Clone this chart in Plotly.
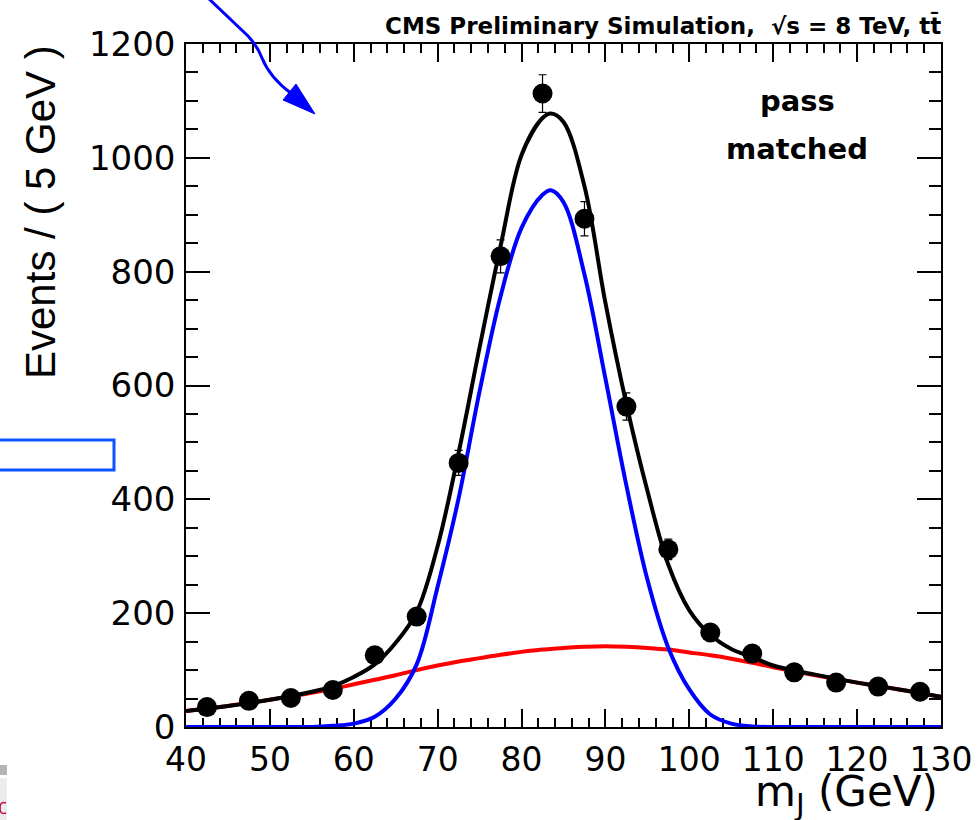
import plotly.graph_objects as go

# ---------------- data ----------------
bin_centers = [42.5, 47.5, 52.5, 57.5, 62.5, 67.5, 72.5, 77.5, 82.5, 87.5,
               92.5, 97.5, 102.5, 107.5, 112.5, 117.5, 122.5, 127.5]
events = [35, 46, 51, 65, 126, 194, 464, 827, 1113, 893,
          563, 312, 166, 129, 96, 78, 71, 62]
events_err = [6, 7, 7, 8, 11, 14, 22, 29, 33, 30, 24, 18, 13, 11, 10, 9, 8, 8]

curve_x = [40, 45, 50, 55, 57.5, 60, 62.5, 65, 67.5, 70, 72.5, 75, 77.5, 80,
           82.5, 83.5, 85, 87.5, 90, 92.5, 95, 97.5, 100, 102.5, 105, 107.5,
           110, 115, 120, 125, 130]
signal_curve = [0, 0, 0, 0, 2, 6, 18, 50, 110, 247, 402, 590, 757, 877,
                935, 943, 922, 795, 612, 424, 259, 139, 66, 22, 6, 1,
                0, 0, 0, 0, 0]
background_curve = [28, 37, 48, 60, 67, 75, 83, 91, 100, 108, 115, 121, 127, 132,
                    136, 137, 139, 141, 142, 141, 139, 136, 131, 126, 120, 113,
                    105, 91, 78, 66, 53]
total_curve = [28, 37, 48, 62, 72, 88, 110, 148, 202, 318, 482, 667, 845, 1005,
               1070, 1078, 1063, 950, 745, 567, 415, 285, 205, 162, 137, 123,
               108, 92, 78, 66, 53]

x_ticks = [40, 50, 60, 70, 80, 90, 100, 110, 120, 130]
y_ticks = [0, 200, 400, 600, 800, 1000, 1200]

# ---------------- figure ----------------
W, H = 980, 820
L, R, T, B = 186, 39, 44, 93
PW, PH = W - L - R, H - T - B
WIDE = "DejaVu Sans, Liberation Sans, Arial, sans-serif"
HELV = "Liberation Sans, Arial, sans-serif"


def px(x, y):
    """pixel -> paper coords (for decorative overlay shapes)"""
    return (x - L) / PW, (H - B - y) / PH


fig = go.Figure()

fig.add_trace(go.Scatter(x=curve_x, y=background_curve, mode="lines",
                         line=dict(color="#ff0000", width=4, shape="spline"),
                         hoverinfo="skip", showlegend=False))
fig.add_trace(go.Scatter(x=curve_x, y=signal_curve, mode="lines",
                         line=dict(color="#0000ff", width=4, shape="spline"),
                         hoverinfo="skip", showlegend=False))
fig.add_trace(go.Scatter(x=curve_x, y=total_curve, mode="lines",
                         line=dict(color="#000000", width=4, shape="spline"),
                         hoverinfo="skip", showlegend=False))
fig.add_trace(go.Scatter(x=bin_centers, y=events, mode="markers",
                         marker=dict(color="black", size=20),
                         error_y=dict(type="data", array=events_err, visible=True,
                                      color="black", thickness=1.2, width=4),
                         showlegend=False))

axis_common = dict(
    showgrid=False, zeroline=False, showline=True, linecolor="black",
    linewidth=1.5, mirror="ticks", ticks="inside", tickcolor="black",
    tickwidth=1.5, layer="below traces", automargin=False,
)

fig.update_xaxes(
    range=[40, 130], tickvals=x_ticks, ticklen=18,
    tickfont=dict(family=WIDE, size=33, color="black"),
    minor=dict(dtick=2, ticklen=9, ticks="inside", tickcolor="black", tickwidth=1.5),
    ticklabelstandoff=3, ticklabeloverflow="allow",
    **axis_common,
)
fig.update_yaxes(
    range=[0, 1200], tickvals=y_ticks, ticklen=24,
    tickfont=dict(family=WIDE, size=34, color="black"),
    minor=dict(dtick=50, ticklen=12, ticks="inside", tickcolor="black", tickwidth=1.5),
    ticklabelstandoff=2, ticklabeloverflow="allow",
    **axis_common,
)

annotations = [
    dict(text="CMS Preliminary Simulation,  √s = 8 TeV, tt\u0304",
         xref="paper", yref="paper", x=px(943, 0)[0], y=px(0, 25)[1],
         xanchor="right", yanchor="middle", showarrow=False,
         font=dict(family=WIDE, size=23, color="black", weight="bold")),
    dict(text="pass", xref="paper", yref="paper", x=px(797, 0)[0], y=px(0, 101)[1],
         xanchor="center", yanchor="middle", showarrow=False,
         font=dict(family=WIDE, size=29, color="black", weight="bold")),
    dict(text="matched", xref="paper", yref="paper", x=px(797, 0)[0], y=px(0, 149)[1],
         xanchor="center", yanchor="middle", showarrow=False,
         font=dict(family=WIDE, size=29, color="black", weight="bold")),
    dict(text="m<sub>J</sub> (GeV)", xref="paper", yref="paper",
         x=px(940, 0)[0], y=px(0, 794)[1], xanchor="right", yanchor="middle",
         showarrow=False,
         font=dict(family=WIDE, size=42, color="black")),
    dict(text="Events / ( 5 GeV )", xref="paper", yref="paper",
         x=px(40, 0)[0], y=px(0, 212)[1], xanchor="center", yanchor="middle",
         textangle=-90, showarrow=False,
         font=dict(family=HELV, size=42, color="black")),
]

# decorative overlay: arrow, rectangle and slide fragments at the left edge
a = [px(*q) for q in [(207, -3), (248, 36), (258, 47), (262, 58), (270, 78), (292, 94)]]
arrow_path = (f"M {a[0][0]},{a[0][1]} L {a[1][0]},{a[1][1]} "
              f"Q {a[2][0]},{a[2][1]} {a[3][0]},{a[3][1]} "
              f"Q {a[4][0]},{a[4][1]} {a[5][0]},{a[5][1]}")
h = [px(*q) for q in [(283, 100), (296, 84), (315, 114)]]
head_path = f"M {h[0][0]},{h[0][1]} L {h[1][0]},{h[1][1]} L {h[2][0]},{h[2][1]} Z"

r0, r1 = px(-3, 440), px(114, 470)
g0, g1 = px(0, 765), px(7, 775)
l0, l1 = px(0, 778), px(7, 820)
c = [px(*q) for q in [(6, 803), (0, 801), (0, 808), (0, 815), (6, 813)]]
c_path = (f"M {c[0][0]},{c[0][1]} Q {c[1][0]},{c[1][1]} {c[2][0]},{c[2][1]} "
          f"Q {c[3][0]},{c[3][1]} {c[4][0]},{c[4][1]}")

shapes = [
    dict(type="path", path=arrow_path, xref="paper", yref="paper",
         line=dict(color="#0000ff", width=3)),
    dict(type="path", path=head_path, xref="paper", yref="paper",
         line=dict(color="#0000ff", width=1), fillcolor="#0000ff"),
    dict(type="rect", xref="paper", yref="paper", x0=r0[0], y0=r0[1], x1=r1[0], y1=r1[1],
         line=dict(color="#0a55ff", width=3)),
    dict(type="rect", xref="paper", yref="paper", x0=l0[0], y0=l0[1], x1=l1[0], y1=l1[1],
         line=dict(width=0), fillcolor="#ececec"),
    dict(type="rect", xref="paper", yref="paper", x0=g0[0], y0=g0[1], x1=g1[0], y1=g1[1],
         line=dict(width=0), fillcolor="#b4b4b4"),
    dict(type="path", path=c_path, xref="paper", yref="paper",
         line=dict(color="#c0103f", width=1.5)),
]

fig.update_layout(
    width=W, height=H,
    margin=dict(l=L, r=R, t=T, b=B, autoexpand=False),
    paper_bgcolor="white", plot_bgcolor="white",
    annotations=annotations, shapes=shapes,
    showlegend=False,
)

fig.write_html("out.html")
